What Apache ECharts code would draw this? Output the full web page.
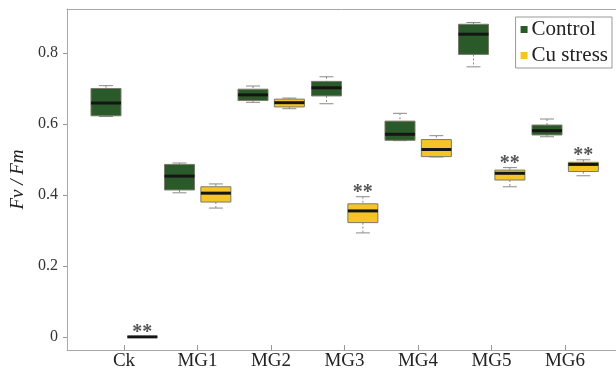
<!DOCTYPE html>
<html>
<head>
<meta charset="utf-8">
<script src="https://cdn.jsdelivr.net/npm/echarts@6/dist/echarts.min.js"></script>
<style>html,body{margin:0;padding:0;background:#fff;}#c{width:616px;height:371px;}</style>
</head>
<body>
<div id="c"></div>
<script>
const categories = ['Ck', 'MG1', 'MG2', 'MG3', 'MG4', 'MG5', 'MG6'];
// [min, Q1, median, Q3, max]
const controlStats = [
  [0.621, 0.623, 0.659, 0.700, 0.708],
  [0.406, 0.414, 0.453, 0.486, 0.490],
  [0.661, 0.666, 0.682, 0.698, 0.707],
  [0.657, 0.679, 0.702, 0.720, 0.733],
  [0.553, 0.554, 0.571, 0.608, 0.630],
  [0.761, 0.796, 0.853, 0.881, 0.886],
  [0.564, 0.569, 0.581, 0.597, 0.614]
];
const cuStats = [
  [0.000, 0.000, 0.000, 0.000, 0.000],
  [0.363, 0.380, 0.405, 0.423, 0.431],
  [0.643, 0.648, 0.660, 0.670, 0.673],
  [0.293, 0.322, 0.355, 0.375, 0.395],
  [0.507, 0.508, 0.528, 0.556, 0.567],
  [0.423, 0.442, 0.461, 0.470, 0.477],
  [0.454, 0.466, 0.486, 0.492, 0.499]
];
const significance = ['**', '', '', '**', '', '**', '**'];
const yTicks = [0, 0.2, 0.4, 0.6, 0.8];
const xTicks = [1, 2, 3, 4, 5, 6, 7];

const SERIF = '"Liberation Serif", "DejaVu Serif", serif';
const GREEN = '#2b5a2a';
const YELLOW = '#f5c527';

function makeRender(offset, color, sigs) {
  return function (params, api) {
    const x = api.value(0);
    const cx = api.coord([x + offset, 0])[0];
    const y = [1, 2, 3, 4, 5].map(k => api.coord([x, api.value(k)])[1]);
    const hw = 15, cw = 7;
    const g = '#8a8a8a';
    const children = [
      {type: 'line', shape: {x1: cx, y1: y[4], x2: cx, y2: y[3]}, style: {stroke: g, lineWidth: 1, lineDash: [2, 2]}},
      {type: 'line', shape: {x1: cx, y1: y[1], x2: cx, y2: y[0]}, style: {stroke: g, lineWidth: 1, lineDash: [2, 2]}},
      {type: 'line', shape: {x1: cx - cw, y1: y[4], x2: cx + cw, y2: y[4]}, style: {stroke: g, lineWidth: 1}},
      {type: 'line', shape: {x1: cx - cw, y1: y[0], x2: cx + cw, y2: y[0]}, style: {stroke: g, lineWidth: 1}},
      {type: 'rect', shape: {x: cx - hw, y: y[3], width: hw * 2, height: y[1] - y[3]}, style: {fill: color, stroke: '#7a7a6a', lineWidth: 1}},
      {type: 'line', shape: {x1: cx - hw, y1: y[2], x2: cx + hw, y2: y[2]}, style: {stroke: '#151515', lineWidth: 3}}
    ];
    if (sigs && sigs[params.dataIndex]) {
      children.push({type: 'text', style: {text: sigs[params.dataIndex], x: cx, y: y[4] + 6, align: 'center', verticalAlign: 'bottom', font: 'bold 20px ' + SERIF, fill: '#555'}});
    }
    return {type: 'group', children: children};
  };
}

const X_MIN = 0.2245, X_MAX = 7.694;

const chart = echarts.init(document.getElementById('c'), null, {renderer: 'canvas'});
chart.setOption({
  animation: false,
  backgroundColor: '#fff',
  grid: {left: 67, right: 0, top: 9, bottom: 21, show: false},
  legend: {
    orient: 'vertical', right: 4, top: 17,
    data: ['Control', 'Cu stress'],
    icon: 'rect', itemWidth: 7, itemHeight: 7, itemGap: 5, itemStyle: {borderWidth: 0},
    borderColor: '#999', borderWidth: 1, padding: [2, 4, 2, 5],
    textStyle: {fontFamily: SERIF, fontSize: 21, color: '#222', padding: [0, 0, 0, -1]}
  },
  xAxis: [
    {
      type: 'value', min: X_MIN, max: X_MAX,
      splitLine: {show: false},
      axisLine: {show: true, onZero: false, lineStyle: {color: '#a8a8a8'}},
      axisTick: {show: true, inside: true, length: 5, customValues: xTicks, lineStyle: {color: '#999'}},
      axisLabel: {customValues: xTicks, formatter: v => categories[Math.round(v) - 1] || '', fontFamily: SERIF, fontSize: 19, color: '#222', margin: 2}
    },
    {
      type: 'value', position: 'top', min: X_MIN, max: X_MAX,
      splitLine: {show: false},
      axisLine: {show: true, onZero: false, lineStyle: {color: '#a8a8a8'}},
      axisTick: {show: false}, axisLabel: {show: false}
    }
  ],
  yAxis: {
    type: 'value', min: -0.037, max: 0.924,
    name: 'Fv / Fm', nameLocation: 'middle', nameGap: 38,
    nameTextStyle: {fontFamily: SERIF, fontStyle: 'italic', fontSize: 19, color: '#222'},
    splitLine: {show: false},
    axisLine: {show: true, onZero: false, lineStyle: {color: '#a8a8a8'}},
    axisTick: {show: true, length: 4, customValues: yTicks, lineStyle: {color: '#999'}},
    axisLabel: {customValues: yTicks, formatter: v => String(Math.round(v * 10) / 10), fontFamily: SERIF, fontSize: 16, color: '#333', margin: 9}
  },
  series: [
    {
      name: 'Control', type: 'custom', itemStyle: {color: GREEN},
      renderItem: makeRender(-0.245, GREEN, null),
      encode: {x: 0, y: [1, 2, 3, 4, 5]},
      data: controlStats.map((s, i) => [xTicks[i]].concat(s))
    },
    {
      name: 'Cu stress', type: 'custom', itemStyle: {color: YELLOW},
      renderItem: makeRender(0.25, YELLOW, significance),
      encode: {x: 0, y: [1, 2, 3, 4, 5]},
      data: cuStats.map((s, i) => [xTicks[i]].concat(s))
    }
  ]
});
</script>
</body>
</html>
